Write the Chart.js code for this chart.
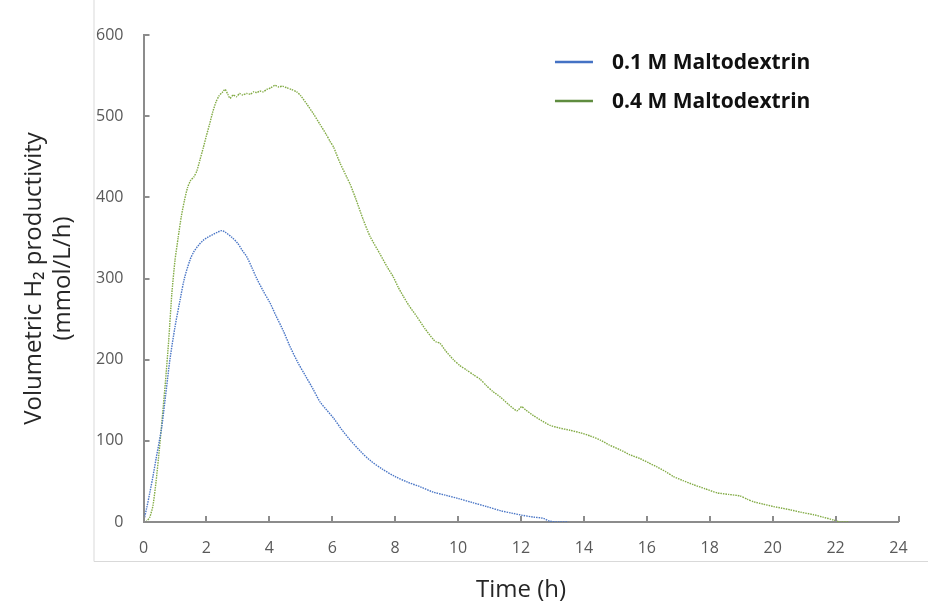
<!DOCTYPE html>
<html>
<head>
<meta charset="utf-8">
<script src="https://cdn.jsdelivr.net/npm/chart.js@4/dist/chart.umd.min.js"></script>
<style>
  html, body { margin: 0; padding: 0; background: #fff; }
  #wrap { width: 928px; height: 606px; }
</style>
</head>
<body>
<div id="wrap"><canvas id="h2Chart" width="928" height="606"></canvas></div>
<script>
// H2 productivity over time, two maltodextrin loadings
const SERIES_LABELS = ['0.1 M Maltodextrin', '0.4 M Maltodextrin'];

const timeLow = [0, 0.1, 0.2, 0.3, 0.4, 0.5, 0.58, 0.7, 0.84, 1.0, 1.16, 1.3, 1.48, 1.6, 1.75, 1.9, 2.05, 2.2, 2.35, 2.49,
  2.6, 2.8, 3.0, 3.15, 3.28, 3.45, 3.6, 3.8, 4.02, 4.2, 4.45, 4.66, 4.9, 5.15, 5.4, 5.61, 5.8, 6.04, 6.3, 6.57,
  6.9, 7.2, 7.6, 8.0, 8.4, 8.79, 9.2, 9.6, 10.0, 10.45, 10.91, 11.34, 11.7, 12.0, 12.4, 12.71, 12.92, 13.2, 13.5];
const prodLow = [0, 17, 36, 56, 78, 99, 117, 155, 200, 240, 273, 300, 323, 333, 341, 347, 351, 354, 357, 359,
  357, 351, 343, 334, 327, 313, 300, 285, 270, 255, 235, 216, 197, 180, 163, 148, 139, 128, 114, 101,
  87, 76, 65, 56, 49, 43.5, 37, 33, 29, 24, 19, 14, 11, 8.6, 6, 4.5, 1, 0, 0];

const timeHigh = [0, 0.1, 0.2, 0.3, 0.4, 0.5, 0.6, 0.7, 0.8, 0.9, 1.0, 1.1, 1.2, 1.3, 1.4, 1.5, 1.6, 1.7, 1.8, 1.9,
  2.0, 2.1, 2.2, 2.3, 2.4, 2.5, 2.59, 2.68, 2.75, 2.85, 2.96, 3.05, 3.15, 3.28, 3.4, 3.5, 3.6, 3.7, 3.8, 3.92,
  4.05, 4.18, 4.3, 4.42, 4.55, 4.7, 4.87, 5.0, 5.19, 5.4, 5.61, 5.8, 5.93, 6.04, 6.25, 6.46, 6.57, 6.75, 6.99, 7.2,
  7.52, 7.75, 7.94, 8.1, 8.26, 8.45, 8.69, 8.95, 9.21, 9.3, 9.43, 9.6, 9.85, 10.05, 10.28, 10.5, 10.7, 10.9, 11.1, 11.34,
  11.6, 11.87, 12.02, 12.15, 12.4, 12.65, 12.93, 13.2, 13.56, 13.88, 14.2, 14.52, 14.8, 15.15, 15.45, 15.79, 16.05, 16.32, 16.6, 16.85,
  17.15, 17.48, 17.85, 18.23, 18.6, 18.97, 19.2, 19.39, 19.7, 20.03, 20.3, 20.56, 20.9, 21.3, 21.6, 21.93, 22.15, 22.4];
const prodHigh = [0, 1, 6, 20, 50, 88, 130, 174, 223, 281, 322, 350, 376, 396, 412, 421, 425, 433, 447, 461,
  476, 490, 505, 517, 525, 529, 533, 527, 522, 526, 524, 528, 526, 528, 527, 530, 529, 531, 530, 533,
  535, 538, 536, 537, 535, 533, 530, 525, 515, 503, 490, 478, 469, 462, 442, 425, 416, 398, 372, 352,
  330, 314, 302, 289, 278, 266, 253, 238, 225, 222, 220, 211, 200, 193, 187, 181, 176, 168, 161, 154,
  145, 137, 142, 138, 131, 125, 119, 116, 113, 110, 106, 101, 95, 89, 83, 78, 73, 68, 62, 56,
  51, 46, 41, 36, 34, 32, 28, 25, 22, 19, 17, 15, 12, 9, 6, 2.5, 0, 0];

const X_TICKS = [0, 2, 4, 6, 8, 10, 12, 14, 16, 18, 20, 22, 24];
const Y_TICKS = [0, 100, 200, 300, 400, 500, 600];

const LINE_COLORS = ['#4a76c6', '#82ab45'];
const KEY_COLORS = ['#4472c4', '#5f8c3f'];
const AXIS_COLOR = '#8c8c8c';
const FONT = "'Open Sans', 'Liberation Sans', sans-serif";

function toPoints(xs, ys) {
  return xs.map((x, i) => ({ x, y: ys[i] }));
}

// light outer frame around the plot block
const framePlugin = {
  id: 'frame',
  beforeDraw(chart) {
    const { ctx, chartArea } = chart;
    const fx = chartArea.left - 50, fy = chartArea.bottom + 39;
    ctx.save();
    ctx.strokeStyle = '#d9d9d9';
    ctx.lineWidth = 1;
    ctx.beginPath();
    ctx.moveTo(fx + 0.5, 0);
    ctx.lineTo(fx + 0.5, fy + 0.5);
    ctx.lineTo(chart.width, fy + 0.5);
    ctx.stroke();
    ctx.restore();
  }
};

// short tick marks pointing into the plot
const innerTicks = {
  id: 'innerTicks',
  afterDraw(chart) {
    const { ctx } = chart;
    const xs = chart.scales.x, ys = chart.scales.y;
    const len = 6;
    ctx.save();
    ctx.strokeStyle = AXIS_COLOR;
    ctx.lineWidth = 2;
    ctx.beginPath();
    xs.ticks.forEach((t, i) => {
      const px = Math.round(xs.getPixelForTick(i));
      ctx.moveTo(px, xs.top);
      ctx.lineTo(px, xs.top - len);
    });
    ys.ticks.forEach((t, i) => {
      const py = Math.round(ys.getPixelForTick(i));
      ctx.moveTo(ys.right, py);
      ctx.lineTo(ys.right + len, py);
    });
    ctx.stroke();
    ctx.restore();
  }
};

// legend block in the upper right of the plot
const keyPlugin = {
  id: 'key',
  afterDraw(chart) {
    const { ctx, chartArea } = chart;
    const x0 = chartArea.left + (chartArea.right - chartArea.left) * 0.545;
    ctx.save();
    ctx.font = "bold 21px " + FONT;
    ctx.textBaseline = 'middle';
    ctx.fillStyle = '#111';
    chart.data.datasets.forEach((ds, i) => {
      const y = chartArea.top + 27 + i * 39;
      ctx.strokeStyle = KEY_COLORS[i];
      ctx.lineWidth = 2.5;
      ctx.beginPath();
      ctx.moveTo(x0, y);
      ctx.lineTo(x0 + 38, y);
      ctx.stroke();
      ctx.fillText(ds.label, x0 + 57, y + 1);
    });
    ctx.restore();
  }
};

new Chart(document.getElementById('h2Chart'), {
  type: 'line',
  data: {
    datasets: [
      {
        label: SERIES_LABELS[0],
        data: toPoints(timeLow, prodLow),
        borderColor: LINE_COLORS[0],
        borderWidth: 1.4,
        borderDash: [1.5, 1],
        pointRadius: 0,
        tension: 0.3
      },
      {
        label: SERIES_LABELS[1],
        data: toPoints(timeHigh, prodHigh),
        borderColor: LINE_COLORS[1],
        borderWidth: 1.4,
        borderDash: [1.5, 1],
        pointRadius: 0,
        tension: 0.2
      }
    ]
  },
  options: {
    responsive: false,
    animation: false,
    layout: { padding: { top: 35, right: 29.5, left: 0, bottom: 0 } },
    plugins: {
      legend: { display: false },
      tooltip: { enabled: false }
    },
    scales: {
      x: {
        type: 'linear',
        min: X_TICKS[0],
        max: X_TICKS[X_TICKS.length - 1],
        afterBuildTicks: s => { s.ticks = X_TICKS.map(v => ({ value: v })); },
        ticks: { color: '#595959', font: { family: FONT, size: 16 }, padding: 17, maxRotation: 0 },
        grid: { display: false, drawTicks: false },
        border: { display: true, color: AXIS_COLOR, width: 2 },
        title: {
          display: true,
          text: 'Time (h)',
          color: '#262626',
          font: { family: FONT, size: 24, lineHeight: 1.2 },
          padding: { top: 0, bottom: 1.6 }
        },
        afterFit: s => { s.height = 84; }
      },
      y: {
        min: Y_TICKS[0],
        max: Y_TICKS[Y_TICKS.length - 1],
        afterBuildTicks: s => { s.ticks = Y_TICKS.map(v => ({ value: v })); },
        ticks: { color: '#595959', font: { family: FONT, size: 16 }, padding: 20 },
        grid: { display: false, drawTicks: false },
        border: { display: true, color: AXIS_COLOR, width: 2 },
        title: {
          display: true,
          text: ['Volumetric H\u2082 productivity', '(mmol/L/h)'],
          color: '#262626',
          font: { family: FONT, size: 24, lineHeight: 1.2 },
          padding: { top: 19.5, bottom: 0 }
        },
        afterFit: s => { s.width = 143.5; }
      }
    }
  },
  plugins: [framePlugin, innerTicks, keyPlugin]
});
</script>
</body>
</html>
